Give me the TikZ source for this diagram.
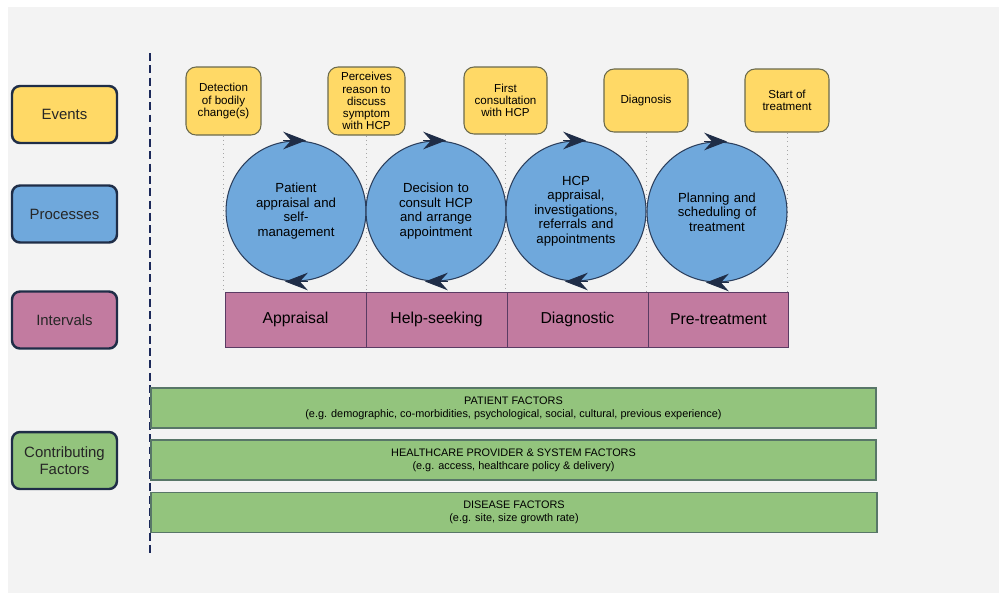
\documentclass[tikz,border=0pt]{standalone}
\usepackage{fontspec}
\setmainfont{Liberation Sans}
\usepackage{tikz}
\usetikzlibrary{positioning,arrows.meta}

\definecolor{bggray}{HTML}{F3F3F3}
\definecolor{navy}{HTML}{1F2D47}
\definecolor{eventyellow}{HTML}{FFD966}
\definecolor{procblue}{HTML}{6FA8DC}
\definecolor{intpink}{HTML}{C27BA0}
\definecolor{factgreen}{HTML}{93C47D}
\definecolor{eventline}{HTML}{6B6A4C}
\definecolor{circline}{HTML}{2B3E5C}
\definecolor{intline}{HTML}{5A3B63}
\definecolor{factline}{HTML}{587668}

\tikzset{
	rowlabel/.style={draw=navy, line width=1.4pt, rounded corners=0.16cm,
		minimum width=2.1cm, minimum height=1.14cm, align=center,
		font=\fontsize{8.5}{10}\selectfont, text=black!85},
	eventbox/.style={draw=eventline, fill=eventyellow, line width=0.6pt,
		rounded corners=0.2cm, align=center, inner sep=1pt,
		font=\fontsize{6.6}{6.9}\selectfont},
	procircle/.style={circle, draw=circline, fill=procblue, line width=0.6pt,
		minimum size=2.8cm, inner sep=0pt, text width=1.9cm, align=center,
		font=\fontsize{7.5}{8.2}\selectfont},
	intbox/.style={draw=intline, fill=intpink, line width=0.5pt, outer sep=0pt,
		minimum width=2.82cm, minimum height=1.1cm,
		font=\fontsize{9}{10}\selectfont},
	factbar/.style={draw=factline, fill=factgreen, line width=0.9pt,
		minimum width=14.5cm, minimum height=0.8cm, align=center,
		font=\fontsize{6.2}{7.6}\selectfont},
	dotline/.style={gray!70, dotted, line width=0.5pt},
	cycletip/.style={-{Stealth[length=13pt, width=10pt, inset=4.5pt]}, navy, line width=0.5pt}
}

\begin{document}
\begin{tikzpicture}[x=0.02cm, y=-0.02cm]
	\useasboundingbox (0,0) rectangle (999,593);
	\fill[white] (0,0) rectangle (999,593);
	\fill[bggray] (8,7) rectangle (999,593);

	% row labels
	\node[rowlabel, fill=eventyellow] (lev) at (64.5,114.5) {Events};
	\node[rowlabel, fill=procblue] (lpr) at (64.5,214) {Processes};
	\node[rowlabel, fill=intpink] (lin) at (64.5,320) {Intervals};
	\node[rowlabel, fill=factgreen] (lcf) at (64.5,460.5) {Contributing\\Factors};

	\coordinate (dtop) at (150,53);
	\coordinate (dbot) at (150,556);
	\draw[navy!90!blue, line width=0.9pt, dash pattern=on 4.5pt off 2.5pt] (dtop) -- (dbot);

	% intervals
	\node[intbox] (ap) at (295.5,319.5) {Appraisal};
	\node[intbox, right=0pt of ap] (hs) {Help-seeking};
	\node[intbox, right=0pt of hs] (dg) {Diagnostic};
	\node[intbox, right=0pt of dg] (pt) {Pre-treatment};

	% events
	\node[eventbox, minimum width=1.5cm, minimum height=1.36cm] (e1) at (223.5,101) {Detection\\of bodily\\change(s)};
	\node[eventbox, minimum width=1.54cm, minimum height=1.36cm] (e2) at (366.5,101) {Perceives\\reason to\\discuss\\symptom\\with HCP};
	\node[eventbox, minimum width=1.66cm, minimum height=1.34cm] (e3) at (505.5,100.5) {First\\consultation\\with HCP};
	\node[eventbox, minimum width=1.68cm, minimum height=1.26cm] (e4) at (646,100.5) {Diagnosis};
	\node[eventbox, minimum width=1.68cm, minimum height=1.26cm] (e5) at (787,100.5) {Start of\\treatment};

	\foreach \e in {e1,e2,e3,e4,e5}
		\draw[dotline] (\e.south) -- (\e.south |- ap.north);

	% processes
	\node[procircle] (c1) at (296,211) {Patient\\appraisal and\\self-\\management};
	\node[procircle] (c2) at (436,211) {Decision to\\consult HCP\\and arrange\\appointment};
	\node[procircle] (c3) at (576,211) {HCP\\appraisal,\\investigations,\\referrals and\\appointments};
	\node[procircle] (c4) at (717,212) {Planning and\\scheduling of\\treatment};

	\foreach \c in {c1,c2,c3,c4}
	{
		\draw[cycletip] ([xshift=-0.26cm]\c.north) -- ([xshift=0.2cm]\c.north);
		\draw[cycletip] ([xshift=0.24cm]\c.south) -- ([xshift=-0.22cm]\c.south);
	}

	% contributing factors
	\node[factbar] (pf) at (513.5,408) {PATIENT FACTORS\\(e.g. demographic, co-morbidities, psychological, social, cultural, previous experience)};
	\node[factbar] (hf) at (513.5,460) {HEALTHCARE PROVIDER \& SYSTEM FACTORS\\(e.g. access, healthcare policy \& delivery)};
	\node[factbar, minimum width=14.52cm] (df) at (514,512.5) {DISEASE FACTORS\\(e.g. site, size growth rate)};
\end{tikzpicture}
\end{document}
